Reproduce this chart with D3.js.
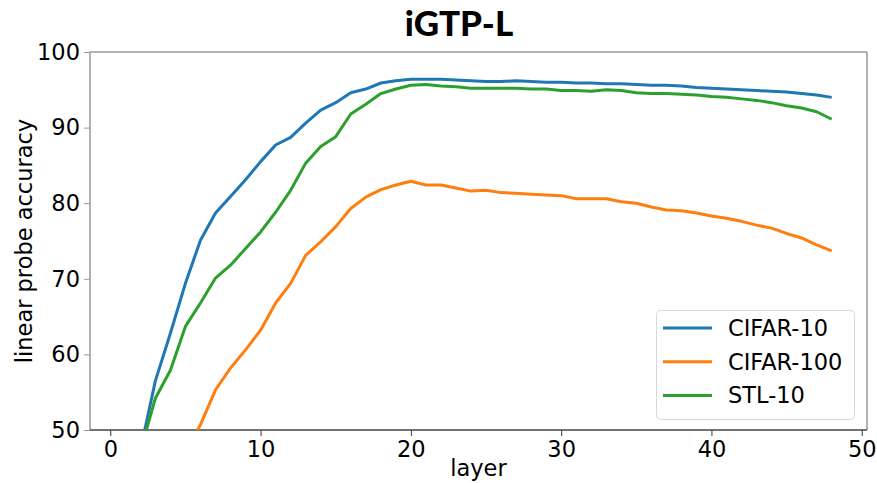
<!DOCTYPE html>
<html>
<head>
<meta charset="utf-8">
<script src="https://cdn.jsdelivr.net/npm/d3@7"></script>
<style>
  html, body { margin: 0; padding: 0; background: #fff; }
  svg { display: block; }
  text { font-family: "DejaVu Sans", sans-serif; fill: #000; }
</style>
</head>
<body>
<svg id="chart" width="877" height="483"></svg>
<script>
const layers = d3.range(1, 49);
const cifar10 = [42.0, 47.3, 56.5, 62.8, 69.4, 75.1, 78.7, 80.9, 83.1, 85.5,
  87.7, 88.7, 90.6, 92.3, 93.3, 94.6, 95.1, 95.9, 96.2, 96.4,
  96.4, 96.4, 96.3, 96.2, 96.1, 96.1, 96.2, 96.1, 96.0, 96.0,
  95.9, 95.9, 95.8, 95.8, 95.7, 95.6, 95.6, 95.5, 95.3, 95.2,
  95.1, 95.0, 94.9, 94.8, 94.7, 94.5, 94.3, 94.0];
const cifar100 = [36.0, 39.0, 42.0, 44.5, 47.2, 50.7, 55.3, 58.2, 60.6, 63.2,
  66.8, 69.4, 73.1, 74.9, 76.9, 79.3, 80.8, 81.8, 82.4, 82.9,
  82.4, 82.4, 82.0, 81.6, 81.7, 81.4, 81.3, 81.2, 81.1, 81.0,
  80.6, 80.6, 80.6, 80.2, 80.0, 79.5, 79.1, 79.0, 78.7, 78.3,
  78.0, 77.6, 77.1, 76.7, 76.0, 75.4, 74.5, 73.7];
const stl10 = [42.0, 47.2, 54.2, 57.9, 63.7, 66.8, 70.1, 71.8, 74.0, 76.2,
  78.8, 81.7, 85.3, 87.5, 88.8, 91.8, 93.1, 94.5, 95.1, 95.6,
  95.7, 95.5, 95.4, 95.2, 95.2, 95.2, 95.2, 95.1, 95.1, 94.9,
  94.9, 94.8, 95.0, 94.9, 94.6, 94.5, 94.5, 94.4, 94.3, 94.1,
  94.0, 93.8, 93.6, 93.3, 92.9, 92.6, 92.1, 91.1];
const seriesNames = ["CIFAR-10", "CIFAR-100", "STL-10"];
const seriesColors = ["#1f77b4", "#ff7f0e", "#2ca02c"];
const xTicks = [0, 10, 20, 30, 40, 50];
const yTicks = [50, 60, 70, 80, 90, 100];
const titleText = "iGTP-L";
const xLabel = "layer";
const yLabel = "linear probe accuracy";

const svg = d3.select("#chart");
const L = 90, R = 867, T = 52, B = 430;

const x = d3.scaleLinear().domain([-1.35, 50.35]).range([L, R]);
const y = d3.scaleLinear().domain([50, 100]).range([B, T]);

svg.append("defs").append("clipPath").attr("id", "clip")
  .append("rect").attr("x", L).attr("y", T).attr("width", R - L).attr("height", B - T);

// axes
const xAxis = svg.append("g").attr("transform", `translate(0,${B})`)
  .call(d3.axisBottom(x).tickValues(xTicks).tickSize(6).tickPadding(5));
const yAxis = svg.append("g").attr("transform", `translate(${L},0)`)
  .call(d3.axisLeft(y).tickValues(yTicks).tickSize(6).tickPadding(4));
[xAxis, yAxis].forEach(g => {
  g.select(".domain").remove();
  g.selectAll("text").style("font-size", "22.5px").attr("fill", "#000");
});
xAxis.selectAll("line").attr("stroke", "#333");
yAxis.selectAll("line").attr("stroke", "#999");

// frame
svg.append("line").attr("x1", L).attr("x2", L).attr("y1", T).attr("y2", B).attr("stroke", "#999").attr("stroke-width", 1.5);
svg.append("line").attr("x1", R).attr("x2", R).attr("y1", T).attr("y2", B).attr("stroke", "#999").attr("stroke-width", 1.5);
svg.append("line").attr("x1", L).attr("x2", R).attr("y1", T).attr("y2", T).attr("stroke", "#999").attr("stroke-width", 1.5);
svg.append("line").attr("x1", L).attr("x2", R).attr("y1", B).attr("y2", B).attr("stroke", "#444").attr("stroke-width", 1.5);

// lines
const allSeries = [cifar10, cifar100, stl10];
const line = d3.line().x((d, i) => x(layers[i])).y(d => y(d));
const plot = svg.append("g").attr("clip-path", "url(#clip)");
allSeries.forEach((s, k) => {
  plot.append("path").datum(s).attr("d", line)
    .attr("fill", "none").attr("stroke", seriesColors[k])
    .attr("stroke-width", 3).attr("stroke-linejoin", "round");
});

// title & labels
svg.append("text").attr("x", 459).attr("y", 36).attr("text-anchor", "middle")
  .style("font-family", "Lato, 'Open Sans', sans-serif").style("font-weight", "900").style("font-size", "35px")
  .text(titleText);
svg.append("text").attr("x", (L + R) / 2).attr("y", 476).attr("text-anchor", "middle")
  .style("font-size", "22.5px").text(xLabel);
svg.append("text").attr("transform", `translate(32,${(T + B) / 2}) rotate(-90)`).attr("text-anchor", "middle")
  .style("font-size", "22.5px").text(yLabel);

// legend
const lg = svg.append("g");
lg.append("rect").attr("x", 656.5).attr("y", 310.5).attr("width", 198).attr("height", 109)
  .attr("rx", 4).attr("fill", "#fff").attr("stroke", "#d9d9d9").attr("stroke-width", 1);
seriesNames.forEach((n, k) => {
  const yy = 328 + k * 33.7;
  lg.append("line").attr("x1", 663).attr("x2", 712).attr("y1", yy).attr("y2", yy)
    .attr("stroke", seriesColors[k]).attr("stroke-width", 3);
  lg.append("text").attr("x", 728).attr("y", yy + 8).style("font-size", "22.5px").text(n);
});
</script>
</body>
</html>
